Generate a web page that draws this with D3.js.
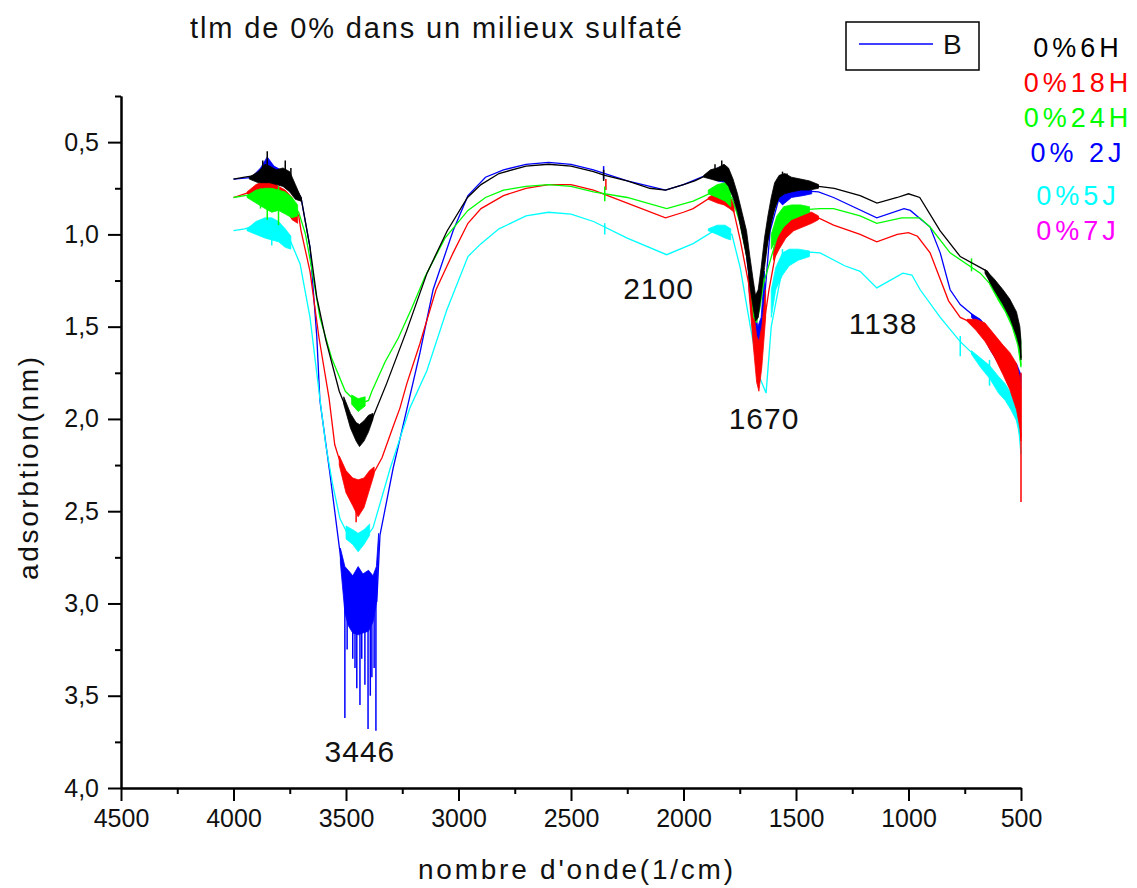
<!DOCTYPE html>
<html>
<head>
<meta charset="utf-8">
<script src="https://cdn.jsdelivr.net/npm/d3@7"></script>
<style>
  body { margin: 0; background: #fff; }
  text { font-family: "Liberation Sans", Arial, sans-serif; }
</style>
</head>
<body>
<svg width="1137" height="888"></svg>
<script>
// series names and colours (0%7J has no curve visible in the plot)
var seriesNames = ["0%6H", "0%18H", "0%24H", "0% 2J", "0%5J", "0%7J"];
var seriesColors = ["#000000", "#ff0000", "#00ff00", "#0000ff", "#00ffff", "#ff00ff"];

// tick values
var yMajor = [0.5, 1.0, 1.5, 2.0, 2.5, 3.0, 3.5, 4.0];
var yMinor = [0.25, 0.75, 1.25, 1.75, 2.25, 2.75, 3.25, 3.75];
var xMajor = [4500, 4000, 3500, 3000, 2500, 2000, 1500, 1000, 500];
var xMinor = [4250, 3750, 3250, 2750, 2250, 1750, 1250, 750];

// peak annotations
var peakLabels = ["3446", "2100", "1670", "1138"];

// 0%6H (black) : [wavenumber, absorption]
var s6H = [[4000,0.70],[3950,0.69],[3900,0.68],[3850,0.67],[3800,0.70],[3750,0.70],[3720,0.76],[3700,0.80],[3660,1.07],[3630,1.34],[3590,1.57],[3530,1.85],[3470,2.03],[3440,2.08],[3400,2.05],[3380,1.99],[3320,1.81],[3230,1.52],[3140,1.21],[3050,0.98],[2960,0.80],[2900,0.73],[2820,0.67],[2700,0.63],[2600,0.62],[2500,0.63],[2400,0.66],[2350,0.68],[2250,0.71],[2150,0.75],[2080,0.76],[2000,0.73],[1950,0.71],[1880,0.67],[1810,0.67],[1780,0.76],[1735,0.96],[1705,1.21],[1680,1.40],[1655,1.25],[1615,0.94],[1570,0.76],[1510,0.73],[1400,0.74],[1330,0.75],[1215,0.79],[1140,0.83],[1050,0.80],[1000,0.78],[950,0.80],[860,0.98],[770,1.12],[650,1.20],[590,1.32],[530,1.45],[505,1.56],[500,1.67]];
// noisy stretches : [wavenumber, low, high]
var noise6H = [
  [[3930,0.69,0.70],[3890,0.66,0.72],[3860,0.62,0.72],[3840,0.63,0.72],[3810,0.65,0.73],[3780,0.64,0.74],[3750,0.66,0.77],[3725,0.73,0.81],[3700,0.80,0.82]],
  [[3510,1.88,1.92],[3480,1.97,2.05],[3455,2.02,2.12],[3440,2.03,2.15],[3420,2.01,2.12],[3400,1.98,2.07],[3380,1.97,2.00]],
  [[1910,0.68,0.69],[1880,0.65,0.70],[1850,0.64,0.71],[1820,0.62,0.71],[1800,0.64,0.74],[1780,0.70,0.80],[1760,0.78,0.88],[1740,0.88,1.00],[1720,0.98,1.12],[1705,1.12,1.28],[1690,1.25,1.40],[1680,1.33,1.47],[1668,1.30,1.45],[1655,1.18,1.33],[1640,1.02,1.18],[1625,0.90,1.04],[1610,0.80,0.94],[1595,0.72,0.86],[1575,0.68,0.80],[1550,0.67,0.78],[1520,0.69,0.77],[1480,0.70,0.76],[1440,0.71,0.76],[1400,0.73,0.75]],
  [[660,1.19,1.21],[620,1.24,1.30],[580,1.30,1.38],[550,1.35,1.45],[520,1.42,1.55],[505,1.50,1.62],[500,1.58,1.68]]
];
var spikes6H = [[3850,0.55,0.66],[3870,0.60,0.68],[3770,0.60,0.68],[3745,0.64,0.72],[1830,0.60,0.68],[1860,0.62,0.69],[1560,0.66,0.72],[1540,0.67,0.73],[2355,0.65,0.71]];

// 0%18H (red)
var s18H = [[4000,0.80],[3950,0.78],[3900,0.76],[3850,0.75],[3800,0.78],[3750,0.80],[3710,0.90],[3700,0.98],[3660,1.20],[3620,1.56],[3575,1.89],[3550,2.14],[3527,2.23],[3490,2.35],[3446,2.42],[3410,2.40],[3380,2.30],[3340,2.21],[3290,2.04],[3260,1.94],[3230,1.81],[3171,1.59],[3100,1.30],[3024,1.10],[2958,0.94],[2900,0.86],[2800,0.79],[2700,0.75],[2600,0.73],[2500,0.73],[2400,0.76],[2250,0.83],[2080,0.91],[2000,0.88],[1957,0.86],[1880,0.80],[1810,0.81],[1785,0.83],[1748,1.03],[1705,1.30],[1680,1.55],[1665,1.65],[1650,1.55],[1620,1.30],[1590,1.10],[1560,1.00],[1510,0.92],[1400,0.91],[1333,0.95],[1215,1.00],[1141,1.04],[1050,1.00],[1000,0.99],[960,1.01],[904,1.10],[822,1.36],[770,1.45],[681,1.50],[622,1.59],[560,1.70],[520,1.86],[505,2.00],[500,2.10]];
var noise18H = [
  [[3940,0.77,0.78],[3900,0.73,0.80],[3860,0.71,0.80],[3830,0.71,0.82],[3800,0.74,0.84],[3770,0.76,0.86],[3740,0.80,0.92],[3715,0.88,0.94]],
  [[3530,2.20,2.25],[3500,2.28,2.40],[3470,2.32,2.47],[3446,2.33,2.53],[3420,2.32,2.48],[3395,2.28,2.38],[3375,2.26,2.30]],
  [[1890,0.80,0.81],[1850,0.77,0.83],[1820,0.76,0.84],[1795,0.79,0.86],[1775,0.84,0.88]],
  [[1710,1.22,1.30],[1690,1.40,1.60],[1675,1.55,1.80],[1665,1.58,1.85],[1652,1.50,1.72],[1635,1.30,1.45]],
  [[1600,1.08,1.14],[1575,0.97,1.08],[1545,0.91,1.02],[1510,0.88,0.98],[1470,0.88,0.96],[1430,0.88,0.94],[1400,0.90,0.92]],
  [[740,1.46,1.47],[700,1.46,1.52],[660,1.48,1.58],[620,1.54,1.66],[580,1.60,1.76],[550,1.64,1.84],[520,1.70,1.95],[505,1.78,2.05],[500,1.85,2.12]]
];
var spikes18H = [[500,1.75,2.45],[3455,2.40,2.56],[2345,0.70,0.76]];

// 0%24H (green)
var s24H = [[4000,0.80],[3950,0.79],[3900,0.78],[3850,0.78],[3800,0.80],[3750,0.82],[3710,0.88],[3680,1.00],[3650,1.20],[3616,1.45],[3564,1.67],[3503,1.85],[3444,1.92],[3400,1.90],[3385,1.85],[3326,1.69],[3267,1.56],[3208,1.40],[3149,1.23],[3060,1.02],[2958,0.87],[2880,0.80],[2800,0.76],[2700,0.74],[2600,0.73],[2500,0.74],[2400,0.77],[2250,0.80],[2075,0.86],[1957,0.82],[1851,0.76],[1785,0.80],[1748,0.94],[1703,1.21],[1680,1.43],[1660,1.35],[1650,1.29],[1571,0.96],[1510,0.87],[1393,0.86],[1333,0.86],[1215,0.90],[1141,0.94],[1030,0.91],[950,0.91],[904,0.96],[815,1.10],[681,1.21],[622,1.29],[560,1.40],[510,1.60],[500,1.71]];
var noise24H = [
  [[3940,0.79,0.80],[3900,0.76,0.83],[3860,0.75,0.86],[3830,0.75,0.88],[3800,0.76,0.87],[3770,0.77,0.89],[3740,0.80,0.91],[3715,0.84,0.90]],
  [[3475,1.87,1.92],[3446,1.89,1.96],[3415,1.88,1.93]],
  [[1890,0.76,0.78],[1850,0.73,0.80],[1815,0.72,0.82],[1790,0.76,0.85]],
  [[1705,1.18,1.24],[1688,1.32,1.45],[1675,1.38,1.48],[1660,1.30,1.40],[1645,1.18,1.28]],
  [[1610,1.00,1.08],[1585,0.90,1.02],[1555,0.85,0.96],[1520,0.84,0.92],[1480,0.84,0.90],[1440,0.85,0.88]],
  [[640,1.25,1.27],[600,1.30,1.36],[570,1.34,1.42],[540,1.40,1.50],[515,1.48,1.60],[500,1.58,1.72]]
];
var spikes24H = [[3850,0.76,0.92],[3800,0.74,0.95],[3880,0.75,0.86],[2350,0.74,0.82],[720,1.13,1.20]];

// 0% 2J (blue)
var s2J = [[4000,0.70],[3900,0.69],[3850,0.68],[3800,0.69],[3750,0.71],[3700,0.80],[3660,1.07],[3630,1.55],[3616,1.90],[3571,2.30],[3527,2.72],[3504,2.95],[3480,3.00],[3446,3.00],[3400,3.00],[3370,3.00],[3363,2.99],[3349,2.63],[3291,2.27],[3230,1.95],[3171,1.64],[3113,1.30],[3024,0.98],[2958,0.79],[2880,0.69],[2800,0.65],[2700,0.62],[2600,0.61],[2500,0.62],[2400,0.65],[2250,0.71],[2080,0.76],[2000,0.73],[1880,0.67],[1810,0.68],[1780,0.76],[1735,0.98],[1705,1.25],[1680,1.50],[1660,1.60],[1650,1.50],[1615,0.98],[1570,0.78],[1510,0.76],[1400,0.77],[1333,0.80],[1141,0.91],[1020,0.86],[992,0.87],[904,0.96],[859,1.10],[815,1.30],[770,1.38],[681,1.47],[622,1.61],[560,1.72],[520,1.76],[500,1.80]];
var noise2J = [
  [[3920,0.69,0.70],[3880,0.64,0.71],[3850,0.58,0.70],[3820,0.63,0.71],[3790,0.65,0.72],[3760,0.68,0.72]],
  [[3525,2.70,2.78],[3505,2.80,3.05],[3490,2.82,3.12],[3470,2.85,3.16],[3446,2.80,3.17],[3425,2.84,3.16],[3400,2.82,3.15],[3380,2.85,3.10],[3365,2.80,3.00],[3355,2.62,2.70]],
  [[1890,0.67,0.68],[1850,0.64,0.71],[1810,0.64,0.72],[1790,0.70,0.74]],
  [[1710,1.20,1.28],[1690,1.35,1.55],[1670,1.50,1.68],[1655,1.45,1.62],[1640,1.20,1.35]],
  [[1590,0.74,0.80],[1560,0.73,0.84],[1520,0.73,0.80],[1470,0.75,0.79],[1430,0.76,0.78]],
  [[720,1.43,1.45],[680,1.46,1.50],[640,1.52,1.62],[600,1.58,1.70],[560,1.66,1.76],[520,1.70,1.80],[500,1.76,1.84]]
];
var spikes2J = [[3505,2.90,3.62],[3495,2.90,3.25],[3470,2.90,3.30],[3460,2.90,3.35],[3452,2.90,3.46],[3438,2.90,3.55],[3430,2.90,3.30],[3416,2.90,3.44],[3402,2.90,3.68],[3392,2.90,3.50],[3385,2.90,3.40],[3375,2.90,3.35],[3367,2.90,3.69],[2355,0.63,0.70]];

// 0%5J (cyan)
var s5J = [[4000,0.98],[3950,0.97],[3900,0.95],[3850,0.94],[3800,0.96],[3749,1.03],[3704,1.16],[3660,1.45],[3616,1.89],[3590,2.14],[3560,2.35],[3527,2.54],[3490,2.63],[3446,2.68],[3410,2.64],[3380,2.59],[3304,2.27],[3216,1.94],[3141,1.74],[3052,1.41],[2958,1.12],[2900,1.05],[2820,0.97],[2700,0.90],[2600,0.88],[2500,0.89],[2400,0.93],[2250,1.02],[2075,1.11],[1957,1.05],[1864,0.98],[1785,1.00],[1748,1.18],[1703,1.50],[1660,1.78],[1633,1.86],[1610,1.50],[1560,1.18],[1511,1.09],[1393,1.10],[1284,1.17],[1215,1.20],[1141,1.29],[1025,1.21],[985,1.22],[948,1.30],[859,1.45],[771,1.58],[711,1.65],[652,1.72],[593,1.83],[533,1.94],[510,2.05],[500,2.19]];
var noise5J = [
  [[3940,0.97,0.98],[3900,0.93,1.00],[3860,0.91,1.02],[3830,0.91,1.03],[3800,0.93,1.04],[3770,0.97,1.07],[3745,1.01,1.08]],
  [[3500,2.58,2.65],[3470,2.60,2.68],[3446,2.62,2.72],[3420,2.60,2.68],[3395,2.57,2.63]],
  [[1890,0.97,0.98],[1850,0.95,1.00],[1815,0.95,1.02],[1790,0.97,1.03]],
  [[1610,1.30,1.45],[1590,1.18,1.30],[1560,1.10,1.22],[1530,1.08,1.17],[1490,1.08,1.14],[1440,1.09,1.12]],
  [[720,1.63,1.65],[680,1.67,1.72],[640,1.71,1.78],[600,1.77,1.86],[570,1.81,1.90],[545,1.86,1.95],[520,1.91,2.01],[505,1.98,2.10]]
];
var spikes5J = [[3830,0.92,1.06],[2350,0.94,1.00],[1560,1.08,1.22],[770,1.55,1.66],[640,1.68,1.82]];

var svg = d3.select("svg");

// plot box
var margin = {"left": 121, "right": 1021, "top": 96, "bottom": 788};

var x = d3.scaleLinear().domain([4500, 500]).range([margin.left, margin.right]);
var y = d3.scaleLinear().domain([0.25, 4.0]).range([margin.top, margin.bottom]);

var line = d3.line()
  .x(function(d) { return x(d[0]); })
  .y(function(d) { return y(d[1]); });

var band = d3.area()
  .x(function(d) { return x(d[0]); })
  .y0(function(d) { return y(d[1]); })
  .y1(function(d) { return y(d[2]); });

var plot = svg.append("g");

var drawSeries = function(pts, noise, spikes, color) {
  var g = plot.append("g");
  g.selectAll("path.band")
    .data(noise)
    .enter()
    .append("path")
    .attr("class", "band")
    .attr("d", band)
    .attr("fill", color)
    .attr("stroke", color)
    .attr("stroke-width", 0.8);
  g.append("path")
    .datum(pts)
    .attr("d", line)
    .attr("fill", "none")
    .attr("stroke", color)
    .attr("stroke-width", 1.3);
  g.selectAll("line.spike")
    .data(spikes)
    .enter()
    .append("line")
    .attr("class", "spike")
    .attr("x1", function(d) { return x(d[0]); })
    .attr("x2", function(d) { return x(d[0]); })
    .attr("y1", function(d) { return y(d[1]); })
    .attr("y2", function(d) { return y(d[2]); })
    .attr("stroke", color)
    .attr("stroke-width", 1.5);
};

// draw order: blue, cyan, red, green, black
drawSeries(s2J, noise2J, spikes2J, seriesColors[3]);
drawSeries(s5J, noise5J, spikes5J, seriesColors[4]);
drawSeries(s18H, noise18H, spikes18H, seriesColors[1]);
drawSeries(s24H, noise24H, spikes24H, seriesColors[2]);
drawSeries(s6H, noise6H, spikes6H, seriesColors[0]);

// axes
var fmt = function(d) { return d3.format(".1f")(d).replace(".", ","); };

svg.append("g")
  .attr("transform", "translate(" + margin.left + ",0)")
  .call(d3.axisLeft(y).tickValues(yMajor).tickSize(13).tickSizeOuter(0).tickPadding(9).tickFormat(fmt));
svg.append("g")
  .attr("transform", "translate(" + margin.left + ",0)")
  .call(d3.axisLeft(y).tickValues(yMinor).tickSize(6).tickSizeOuter(0).tickFormat(""));

svg.append("g")
  .attr("transform", "translate(0," + margin.bottom + ")")
  .call(d3.axisBottom(x).tickValues(xMajor).tickSize(13).tickSizeOuter(0).tickPadding(8).tickFormat(d3.format("d")));
svg.append("g")
  .attr("transform", "translate(0," + margin.bottom + ")")
  .call(d3.axisBottom(x).tickValues(xMinor).tickSize(6).tickSizeOuter(0).tickFormat(""));

svg.selectAll(".domain").attr("stroke-width", 2);
svg.selectAll(".tick line").attr("stroke-width", 2);
svg.selectAll(".tick text")
  .attr("font-size", 25)
  .attr("font-family", "Liberation Sans, Arial, sans-serif")
  .attr("fill", "#111");

// title
svg.append("text")
  .attr("x", 190)
  .attr("y", 38)
  .attr("font-size", 29)
  .attr("textLength", 492)
  .attr("lengthAdjust", "spacing")
  .attr("fill", "#111")
  .text("tlm de 0% dans un milieux sulfaté");

// axis titles
svg.append("text")
  .attr("x", 418)
  .attr("y", 879)
  .attr("font-size", 28)
  .attr("textLength", 315)
  .attr("lengthAdjust", "spacing")
  .attr("fill", "#111")
  .text("nombre d'onde(1/cm)");

svg.append("text")
  .attr("transform", "translate(38,580) rotate(-90)")
  .attr("font-size", 28)
  .attr("textLength", 223)
  .attr("lengthAdjust", "spacing")
  .attr("fill", "#111")
  .text("adsorbtion(nm)");

// peak labels, placed below each band
var peakPos = [[3438, 3.86], [2111, 1.35], [1642, 2.055], [1113, 1.54]];
svg.selectAll("text.peak")
  .data(peakLabels)
  .enter()
  .append("text")
  .attr("class", "peak")
  .attr("x", function(d, i) { return x(peakPos[i][0]); })
  .attr("y", function(d, i) { return y(peakPos[i][1]); })
  .attr("text-anchor", "middle")
  .attr("font-size", 30)
  .attr("letter-spacing", 1)
  .attr("fill", "#111")
  .text(function(d) { return d; });

// legend box with "B"
var leg = svg.append("g");
leg.append("rect")
  .attr("x", 846).attr("y", 22)
  .attr("width", 133).attr("height", 48)
  .attr("fill", "none")
  .attr("stroke", "#000")
  .attr("stroke-width", 1.5);
leg.append("line")
  .attr("x1", 859).attr("x2", 933)
  .attr("y1", 44).attr("y2", 44)
  .attr("stroke", seriesColors[3])
  .attr("stroke-width", 1.3);
leg.append("text")
  .attr("x", 943).attr("y", 54)
  .attr("font-size", 28)
  .attr("fill", "#111")
  .text("B");

// coloured series names on the right
var nameBase = [57, 92, 127, 162, 205, 240];
svg.selectAll("text.sname")
  .data(seriesNames)
  .enter()
  .append("text")
  .attr("class", "sname")
  .attr("x", 1078)
  .attr("y", function(d, i) { return nameBase[i]; })
  .attr("text-anchor", "middle")
  .attr("font-size", 27)
  .attr("letter-spacing", 4)
  .attr("fill", function(d, i) { return seriesColors[i]; })
  .text(function(d) { return d; });
</script>
</body>
</html>
